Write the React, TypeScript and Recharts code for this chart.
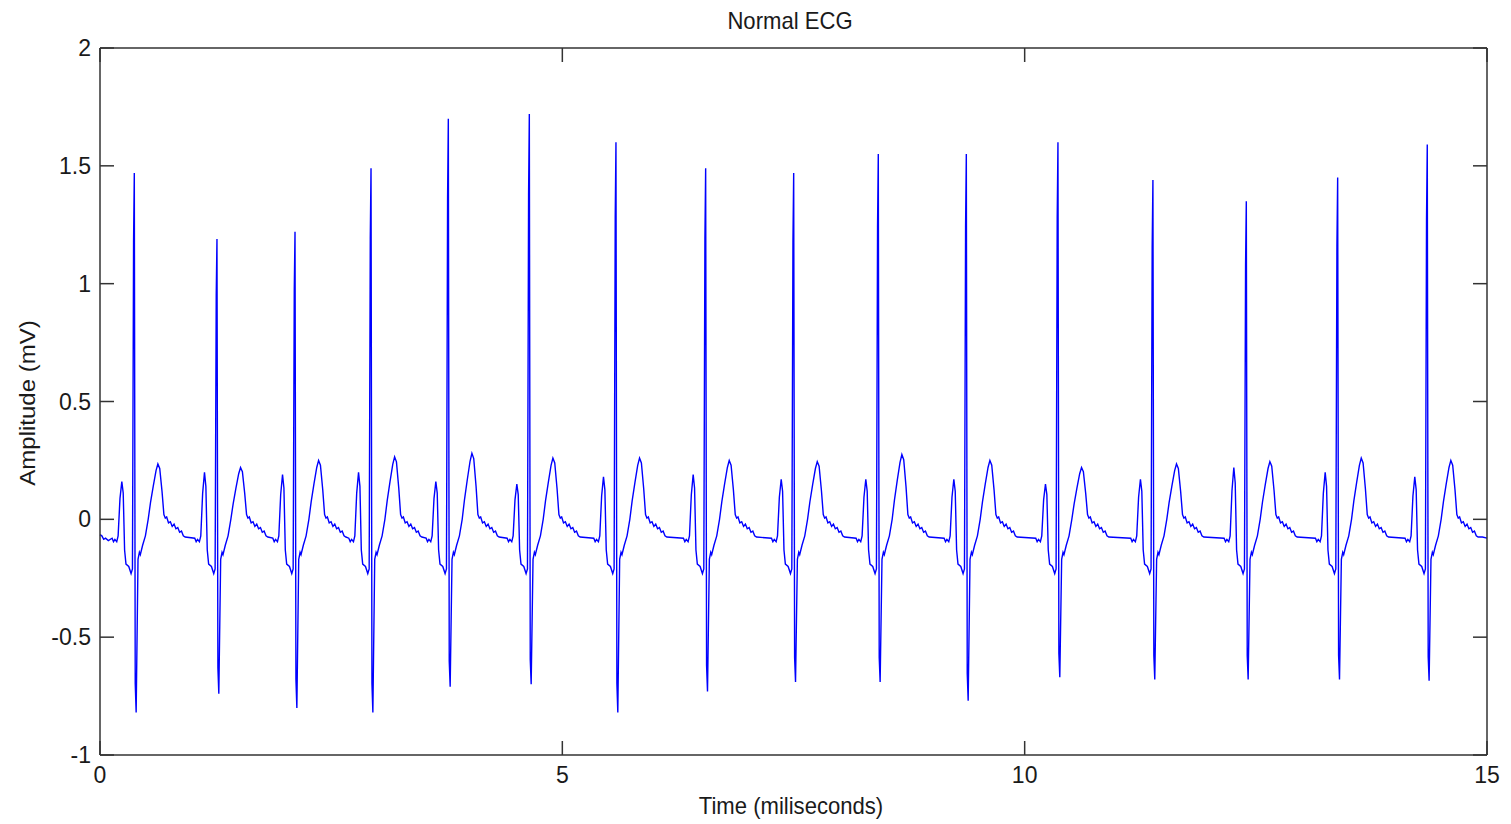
import React from 'react';
import { LineChart, Line, XAxis, YAxis } from 'recharts';

// R-peak times (s) and the peaks of each beat
const R_TIMES = [0.371, 1.265, 2.109, 2.931, 3.767, 4.643, 5.58, 6.55, 7.502, 8.417, 9.369, 10.36, 11.387, 12.397, 13.385, 14.354];
const R_PEAKS = [1.47, 1.19, 1.22, 1.49, 1.7, 1.72, 1.6, 1.49, 1.47, 1.55, 1.55, 1.6, 1.44, 1.35, 1.45, 1.59];
const S_TROUGHS = [-0.82, -0.74, -0.8, -0.82, -0.71, -0.7, -0.82, -0.73, -0.69, -0.69, -0.77, -0.67, -0.68, -0.68, -0.68, -0.685];
const T_PEAKS = [0.235, 0.22, 0.25, 0.265, 0.28, 0.26, 0.26, 0.25, 0.245, 0.275, 0.25, 0.22, 0.235, 0.245, 0.26, 0.25];
const P_PEAKS = [0.16, 0.2, 0.19, 0.2, 0.16, 0.15, 0.18, 0.19, 0.17, 0.17, 0.17, 0.15, 0.17, 0.22, 0.2, 0.18];

// one beat: [offset from R (s), wave, value or fraction of that wave]
const BEAT_SHAPE: [number, string, number][] = [
  [-0.24, 'b', -0.08],
  [-0.225, 'b', -0.095],
  [-0.21, 'b', -0.085],
  [-0.19, 'b', -0.095],
  [-0.175, 'b', -0.07],
  [-0.155, 'P', 0.55],
  [-0.135, 'P', 1],
  [-0.12, 'P', 0.7],
  [-0.105, 'b', -0.13],
  [-0.09, 'b', -0.19],
  [-0.06, 'b', -0.2],
  [-0.035, 'b', -0.23],
  [-0.02, 'b', -0.21],
  [-0.008, 'R', 0.8],
  [0, 'R', 1],
  [0.01, 'S', 0.85],
  [0.02, 'S', 1],
  [0.04, 'b', -0.17],
  [0.055, 'b', -0.14],
  [0.065, 'b', -0.15],
  [0.09, 'b', -0.11],
  [0.12, 'b', -0.07],
  [0.15, 'b', 0.0],
  [0.175, 'T', 0.3],
  [0.205, 'T', 0.6],
  [0.235, 'T', 0.88],
  [0.255, 'T', 1],
  [0.275, 'T', 0.92],
  [0.3, 'T', 0.5],
  [0.32, 'b', 0.02],
  [0.335, 'b', 0.005],
  [0.35, 'b', 0.01],
  [0.37, 'b', -0.015],
  [0.39, 'b', -0.01],
  [0.41, 'b', -0.03],
  [0.43, 'b', -0.02],
  [0.45, 'b', -0.04],
  [0.47, 'b', -0.035],
  [0.49, 'b', -0.055],
  [0.51, 'b', -0.05],
  [0.53, 'b', -0.07],
  [0.55, 'b', -0.075],
];

const LEAD_IN = [
  [0, -0.065],
  [0.02, -0.07],
  [0.04, -0.085],
  [0.06, -0.08],
  [0.09, -0.09],
];
const LEAD_OUT = [
  [14.95, -0.075],
  [15, -0.08],
];

const X_TICKS = [0, 5, 10, 15];
const Y_TICKS = [-1, -0.5, 0, 0.5, 1, 1.5, 2];

const ecgData: { t: number; v: number }[] = [];
LEAD_IN.forEach(([t, v]) => ecgData.push({ t, v }));
R_TIMES.forEach((rt, i) => {
  const waves: Record<string, number> = { P: P_PEAKS[i], R: R_PEAKS[i], S: S_TROUGHS[i], T: T_PEAKS[i] };
  BEAT_SHAPE.forEach(([dt, key, k]) => {
    const v = key === 'b' ? k : waves[key] * k;
    ecgData.push({ t: +(rt + dt).toFixed(4), v });
  });
});
LEAD_OUT.forEach(([t, v]) => ecgData.push({ t, v }));

const FONT = '"Liberation Sans", Arial, sans-serif';
const axisColor = '#333';
const tickText = { fill: '#1a1a1a', fontSize: 23, fontFamily: FONT };
const noLabel = () => '';

export default function App() {
  return (
    <div style={{ position: 'absolute', left: 0, top: 0, width: 1511, height: 824, background: '#fff', fontFamily: FONT }}>
      <LineChart width={1511} height={824} data={ecgData} margin={{ top: 47, right: 23, bottom: 29, left: 40 }}>
        <XAxis
          dataKey="t"
          type="number"
          domain={[0, 15]}
          ticks={X_TICKS}
          height={40}
          stroke={axisColor}
          strokeWidth={1.5}
          tickSize={-14}
          tickMargin={26}
          tick={tickText}
          interval={0}
        />
        {/* top edge of the box, ticks only */}
        <XAxis
          xAxisId="top"
          orientation="top"
          dataKey="t"
          type="number"
          domain={[0, 15]}
          ticks={X_TICKS}
          height={1}
          stroke={axisColor}
          strokeWidth={1.5}
          tickSize={-14}
          tickFormatter={noLabel}
          interval={0}
        />
        <YAxis
          type="number"
          domain={[-1, 2]}
          ticks={Y_TICKS}
          width={60}
          stroke={axisColor}
          strokeWidth={1.5}
          tickSize={-14}
          tickMargin={23}
          tick={tickText}
          interval={0}
          allowDataOverflow
        />
        {/* right edge of the box, ticks only */}
        <YAxis
          yAxisId="right"
          orientation="right"
          type="number"
          domain={[-1, 2]}
          ticks={Y_TICKS}
          width={1}
          stroke={axisColor}
          strokeWidth={1.5}
          tickSize={-14}
          tickFormatter={noLabel}
          interval={0}
          allowDataOverflow
        />
        <Line
          type="linear"
          dataKey="v"
          stroke="#0000ff"
          strokeWidth={1.4}
          dot={false}
          activeDot={false}
          isAnimationActive={false}
        />
      </LineChart>

      {/* title and axis labels */}
      <div style={{ position: 'absolute', left: 590, top: 9, width: 400, height: 24, lineHeight: '24px', fontSize: 24, color: '#1a1a1a', textAlign: 'center', transform: 'scaleX(0.92)' }}>
        Normal ECG
      </div>
      <div style={{ position: 'absolute', left: 591, top: 794, width: 400, height: 24, lineHeight: '24px', fontSize: 24, color: '#1a1a1a', textAlign: 'center', transform: 'scaleX(0.92)' }}>
        Time (miliseconds)
      </div>
      <div style={{ position: 'absolute', left: 28 - 150, top: 403 - 12, width: 300, height: 24, lineHeight: '24px', fontSize: 24, color: '#1a1a1a', textAlign: 'center', transform: 'rotate(-90deg) scaleY(0.92)' }}>
        Amplitude (mV)
      </div>
    </div>
  );
}
